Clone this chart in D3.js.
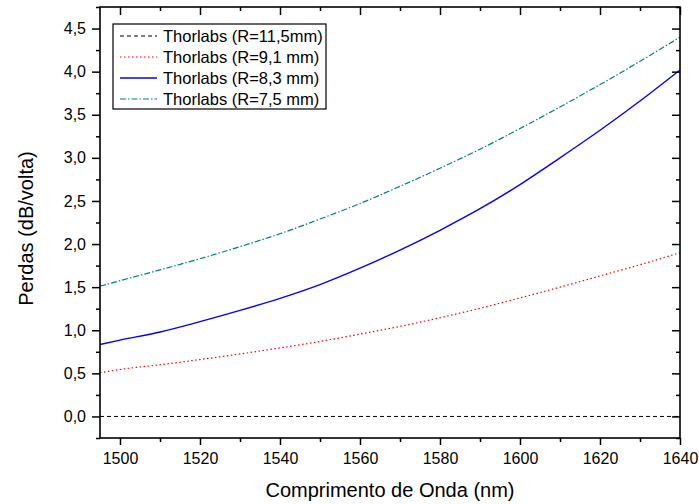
<!DOCTYPE html>
<html>
<head>
<meta charset="utf-8">
<script src="https://cdn.jsdelivr.net/npm/d3@7"></script>
<style>
  body { margin: 0; background: #fff; }
  text { font-family: "Liberation Sans", Arial, sans-serif; }
</style>
</head>
<body>
<div id="general"></div>
<script>
const w = 699, h = 504;
const m = {l: 100, r: 680, t: 7, b: 438};

// comprimento de onda (nm)
const lambda = [1495, 1500, 1510, 1520, 1530, 1540, 1550, 1560, 1570, 1580, 1590, 1600, 1610, 1620, 1630, 1640];
const r115 = [0, 0, 0, 0, 0, 0, 0, 0, 0, 0, 0, 0, 0, 0, 0, 0];
const r91 = [0.507, 0.545, 0.60, 0.66, 0.725, 0.795, 0.87, 0.955, 1.045, 1.145, 1.255, 1.375, 1.50, 1.63, 1.76, 1.90];
const r83 = [0.835, 0.885, 0.98, 1.10, 1.23, 1.37, 1.53, 1.72, 1.93, 2.16, 2.41, 2.69, 3.00, 3.32, 3.66, 4.02];
const r75 = [1.51, 1.575, 1.70, 1.83, 1.97, 2.12, 2.29, 2.47, 2.67, 2.88, 3.10, 3.34, 3.59, 3.85, 4.12, 4.40];

const labels = ["Thorlabs (R=11,5mm)", "Thorlabs (R=9,1 mm)", "Thorlabs (R=8,3 mm)", "Thorlabs (R=7,5 mm)"];
const xTicks = [1500, 1520, 1540, 1560, 1580, 1600, 1620, 1640];
const xMinor = [1510, 1530, 1550, 1570, 1590, 1610, 1630];
const yTicks = [0, 0.5, 1, 1.5, 2, 2.5, 3, 3.5, 4, 4.5];
const yMinor = [-0.25, 0.25, 0.75, 1.25, 1.75, 2.25, 2.75, 3.25, 3.75, 4.25, 4.75];

const series = [
  {name: labels[0], vals: r115, color: "#000000", dash: "4,3", width: 1},
  {name: labels[1], vals: r91, color: "#ff0000", dash: "1.5,2.5", width: 1.2},
  {name: labels[2], vals: r83, color: "#0000ff", dash: null, width: 1.4},
  {name: labels[3], vals: r75, color: "#008080", dash: "6,2,1.5,2", width: 1.2}
];

const svg = d3.select("#general").append("svg").attr("width", w).attr("height", h);

const x = d3.scaleLinear().domain([1495, 1640]).range([m.l, m.r]);
const y = d3.scaleLinear().domain([-0.25, 4.75]).range([m.b, m.t]);
const fmt = d => d3.format(".1f")(d).replace(".", ",");

const curves = svg.append("g");
const line = d3.line().x((d, i) => x(lambda[i])).y(d => y(d)).curve(d3.curveMonotoneX);
series.forEach(s => {
  curves.append("path")
    .attr("d", line(s.vals))
    .attr("fill", "none")
    .attr("stroke", s.color)
    .attr("stroke-width", s.width)
    .attr("stroke-dasharray", s.dash);
});

function styleAxis(g) {
  g.select(".domain").remove();
  g.selectAll("line").attr("stroke", "#000").attr("stroke-width", 1.5);
  g.selectAll("text").attr("font-size", 16).attr("fill", "#000").attr("font-family", "Liberation Sans, Arial, sans-serif");
}

// eixo inferior
svg.append("g").attr("transform", `translate(0,${m.b})`)
  .call(d3.axisBottom(x).tickValues(xTicks).tickSize(7).tickPadding(8).tickFormat(d3.format("d")))
  .call(styleAxis);
svg.append("g").attr("transform", `translate(0,${m.b})`)
  .call(d3.axisBottom(x).tickValues(xMinor).tickSize(4).tickFormat(""))
  .call(styleAxis);
// eixo superior
svg.append("g").attr("transform", `translate(0,${m.t})`)
  .call(d3.axisTop(x).tickValues(xTicks).tickSize(-8).tickFormat(""))
  .call(styleAxis);
svg.append("g").attr("transform", `translate(0,${m.t})`)
  .call(d3.axisTop(x).tickValues(xMinor).tickSize(-4).tickFormat(""))
  .call(styleAxis);
// eixo esquerdo
svg.append("g").attr("transform", `translate(${m.l},0)`)
  .call(d3.axisLeft(y).tickValues(yTicks).tickSize(8).tickPadding(6).tickFormat(fmt))
  .call(styleAxis);
svg.append("g").attr("transform", `translate(${m.l},0)`)
  .call(d3.axisLeft(y).tickValues(yMinor).tickSize(4).tickFormat(""))
  .call(styleAxis);
// eixo direito
svg.append("g").attr("transform", `translate(${m.r},0)`)
  .call(d3.axisRight(y).tickValues(yTicks).tickSize(-8).tickFormat(""))
  .call(styleAxis);
svg.append("g").attr("transform", `translate(${m.r},0)`)
  .call(d3.axisRight(y).tickValues(yMinor).tickSize(-4).tickFormat(""))
  .call(styleAxis);

svg.append("rect")
  .attr("x", m.l).attr("y", m.t)
  .attr("width", m.r - m.l).attr("height", m.b - m.t)
  .attr("fill", "none").attr("stroke", "#000").attr("stroke-width", 1.6);

// titulos
svg.append("text")
  .attr("x", (m.l + m.r) / 2).attr("y", 497)
  .attr("text-anchor", "middle").attr("font-size", 20)
  .text("Comprimento de Onda (nm)");
svg.append("text")
  .attr("transform", `translate(33,${(m.t + m.b) / 2 + 6}) rotate(-90)`)
  .attr("text-anchor", "middle").attr("font-size", 20)
  .text("Perdas (dB/volta)");

// legenda
const leg = svg.append("g");
leg.append("rect")
  .attr("x", 113).attr("y", 24).attr("width", 213).attr("height", 85)
  .attr("fill", "#fff").attr("stroke", "#000").attr("stroke-width", 1.2);
series.forEach((s, i) => {
  const yy = 36 + i * 21;
  leg.append("line")
    .attr("x1", 120).attr("x2", 157).attr("y1", yy).attr("y2", yy)
    .attr("stroke", s.color).attr("stroke-width", s.width)
    .attr("stroke-dasharray", s.dash);
  leg.append("text")
    .attr("x", 163).attr("y", yy).attr("dy", "0.35em")
    .attr("font-size", 16.5)
    .text(s.name);
});
</script>
</body>
</html>
